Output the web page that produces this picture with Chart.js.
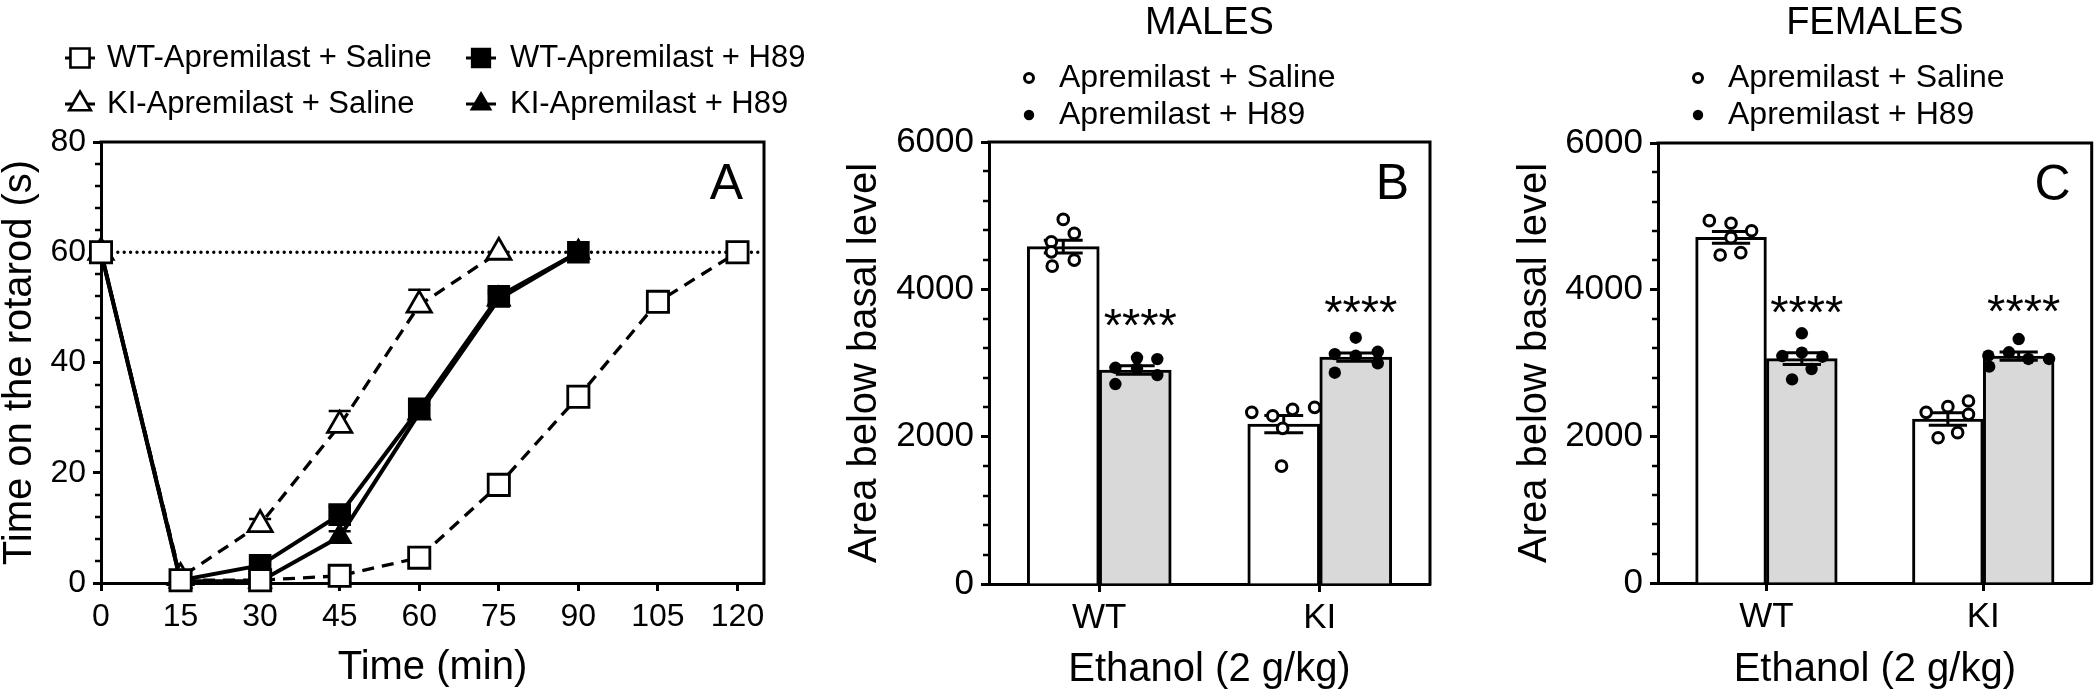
<!DOCTYPE html>
<html>
<head>
<meta charset="utf-8">
<script src="https://cdn.jsdelivr.net/npm/chart.js@4.4.1/dist/chart.umd.min.js"></script>
<style>
  html, body { margin: 0; padding: 0; background: #ffffff; }
  #wrap { position: relative; width: 2100px; height: 691px; overflow: hidden; background: #fff; }
  canvas { position: absolute; top: 0; }
</style>
</head>
<body>
<div id="wrap">
  <canvas id="cA" width="830" height="691" style="left:0px"></canvas>
  <canvas id="cB" width="630" height="691" style="left:830px"></canvas>
  <canvas id="cC" width="640" height="691" style="left:1460px"></canvas>
</div>
<script>
// ================= DATA =================
// Panel A – time course on the rotarod
const TIME_MIN       = [0, 15, 30, 45, 60, 75, 90, 105, 120];
const WT_SALINE      = [60, 0.5, 0.5, 1.3, 4.6, 17.8, 33.8, 51.0, 60];
const WT_SALINE_SEM  = [0, 0.3, 0.3, 0.5, 1.0, 1.5, 1.5, 1.5, 0];
const KI_SALINE      = [60, 1.0, 10.6, 28.6, 50.4, 60];
const KI_SALINE_SEM  = [0, 0.5, 1.0, 2.6, 2.8, 0];
const WT_H89         = [60, 0.5, 3.2, 12.4, 31.6, 52.0, 60];
const WT_H89_SEM     = [0, 0.3, 0.8, 1.5, 1.5, 1.0, 0];
const KI_H89         = [60, 0.3, 0.3, 8.4, 30.8, 51.5, 60];
const KI_H89_SEM     = [0, 0.2, 0.2, 1.0, 1.5, 1.0, 0];
const A_X_TICKS      = [0, 15, 30, 45, 60, 75, 90, 105, 120];
const A_Y_TICKS      = [0, 20, 40, 60, 80];
const A_CUTOFF       = 60;   // dotted reference line
const A_X_MAX        = 125;

// Panels B / C – area below basal level
const GENOTYPES      = ['WT', 'KI'];
const B_Y_TICKS      = [0, 2000, 4000, 6000];

const M_SALINE_MEAN  = [4580, 2170];
const M_SALINE_SEM   = [87, 117];
const M_H89_MEAN     = [2905, 3080];
const M_H89_SEM      = [57, 56];
const M_SALINE_PTS   = [[4949, 4759, 4645, 4509, 4397, 4315], [2330, 2284, 2371, 2398, 2113, 1600]];
const M_H89_PTS      = [[2935, 3071, 3053, 2927, 2836, 2714], [3343, 3121, 3098, 3152, 2995, 2868]];

const F_SALINE_MEAN  = [4714, 2236];
const F_SALINE_SEM   = [80, 86];
const F_H89_MEAN     = [3060, 3095];
const F_H89_SEM      = [80, 56];
const F_SALINE_PTS   = [[4941, 4905, 4804, 4709, 4473, 4505], [2327, 2405, 2482, 2300, 1980, 2050]];
const F_H89_PTS      = [[3405, 3095, 3141, 3086, 2918, 2777], [3327, 3100, 3146, 3055, 3055, 2950]];

// ================= STYLE =================
const FONT = "'Liberation Sans', Arial, Helvetica, sans-serif";
Chart.defaults.font.family = FONT;
Chart.defaults.color = '#000';
Chart.defaults.animation = false;

const CAT_PCT = 0.653;               // bar pair width share of a category
const BAR_SHIFT = CAT_PCT / 4;       // centre of each bar relative to category centre
// horizontal spread of individual dots (in category units), per group
const JIT = {
  mSal: [[0, 0.05, -0.054, -0.054, 0.05, -0.05], [-0.145, -0.05, 0.04, 0.14, -0.005, -0.01]],
  mH89: [[-0.09, 0.008, 0.1, 0.008, 0.1, -0.09], [0, -0.095, 0, 0.1, 0.1, -0.095]],
  fSal: [[-0.1, 0, 0.095, 0, -0.05, 0.045], [-0.1, 0, 0.095, 0.095, -0.045, 0.045]],
  fH89: [[0, -0.09, 0, 0.095, 0.045, -0.045], [0, -0.14, -0.045, 0.045, 0.14, -0.136]]
};

function px(sz) { return sz + 'px ' + FONT; }

// ================= DECOR PLUGIN =================
function makeDecor(cfg) {
  return {
    id: 'decor',
    beforeDatasetsDraw(chart) {
      const ctx = chart.ctx, a = chart.chartArea, ys = chart.scales.y;
      ctx.save();
      ctx.strokeStyle = '#000';
      if (cfg.refLine !== undefined) {
        const py = ys.getPixelForValue(cfg.refLine);
        ctx.beginPath();
        ctx.setLineDash([0, 6.4]);
        ctx.lineCap = 'round';
        ctx.lineWidth = 3.4;
        ctx.moveTo(a.left + 4, py);
        ctx.lineTo(a.right, py);
        ctx.stroke();
        ctx.setLineDash([]);
      }
      if (cfg.lineErr) {
        // SEM drawn upward only (lower half hidden behind the symbols)
        ctx.lineCap = 'butt';
        ctx.lineWidth = 2.5;
        chart.data.datasets.forEach((ds, i) => {
          const sem = cfg.lineErr[i];
          if (!sem) return;
          chart.getDatasetMeta(i).data.forEach((pt, j) => {
            const s = sem[j];
            if (!s) return;
            const v = ds.data[j].y;
            const yt = ys.getPixelForValue(v + s);
            const c = 11;
            ctx.beginPath();
            ctx.moveTo(pt.x, yt); ctx.lineTo(pt.x, pt.y);
            ctx.moveTo(pt.x - c, yt); ctx.lineTo(pt.x + c, yt);
            ctx.stroke();
          });
        });
      }
      ctx.restore();
    },
    afterDatasetDraw(chart, args) {
      if (!cfg.barErr || args.meta.type !== 'bar') return;
      const ctx = chart.ctx, ys = chart.scales.y;
      const ds = chart.data.datasets[args.index];
      const sem = cfg.barErr[args.index];
      ctx.save();
      ctx.strokeStyle = '#000';
      ctx.lineWidth = 3;
      ctx.lineCap = 'butt';
      args.meta.data.forEach((bar, j) => {
        const v = ds.data[j].y, s = sem[j];
        const yt = ys.getPixelForValue(v + s), yb = ys.getPixelForValue(v - s);
        const c = bar.width * 0.27;
        ctx.beginPath();
        ctx.moveTo(bar.x, yt); ctx.lineTo(bar.x, yb);
        ctx.moveTo(bar.x - c, yt); ctx.lineTo(bar.x + c, yt);
        ctx.moveTo(bar.x - c, yb); ctx.lineTo(bar.x + c, yb);
        ctx.stroke();
      });
      ctx.restore();
    },
    afterDraw(chart) {
      const ctx = chart.ctx, a = chart.chartArea, ys = chart.scales.y;
      ctx.save();
      ctx.strokeStyle = '#000';
      ctx.fillStyle = '#000';
      // frame (top and right)
      ctx.lineWidth = 3;
      ctx.lineCap = 'square';
      ctx.beginPath();
      ctx.moveTo(a.left, a.top);
      ctx.lineTo(a.right, a.top);
      ctx.lineTo(a.right, a.bottom);
      ctx.stroke();
      // minor y ticks (5 subdivisions between labelled ticks)
      const maj = cfg.yTicks;
      const step = (maj[1] - maj[0]) / 5;
      ctx.lineWidth = 2.5;
      ctx.lineCap = 'butt';
      ctx.beginPath();
      for (let k = 0; k < maj.length - 1; k++) {
        for (let m = 1; m < 5; m++) {
          const py = Math.round(ys.getPixelForValue(maj[k] + m * step));
          ctx.moveTo(a.left - 6, py);
          ctx.lineTo(a.left, py);
        }
      }
      ctx.stroke();
      // panel letter
      ctx.font = px(50);
      ctx.textAlign = 'right';
      ctx.textBaseline = 'alphabetic';
      ctx.fillText(cfg.letter, a.right - 21, a.top + 57);
      // title
      if (cfg.title) {
        ctx.font = px(38);
        ctx.textAlign = 'center';
        ctx.fillText(cfg.title, (a.left + a.right) / 2, 34);
      }
      // significance marks
      if (cfg.stars) {
        const di = cfg.stars.dataset;
        const meta = chart.getDatasetMeta(di);
        const ds = chart.data.datasets[di];
        ctx.font = px(47);
        ctx.textAlign = 'center';
        const m = ctx.measureText(cfg.stars.text);
        const half = (m.actualBoundingBoxAscent - m.actualBoundingBoxDescent) / 2;
        meta.data.forEach((bar, j) => {
          const top = ys.getPixelForValue(ds.data[j].y + cfg.barErr[di][j]);
          ctx.fillText(cfg.stars.text, bar.x + 5, top - 48 + half);
        });
      }
      // legends
      if (cfg.legendA) {
        ctx.font = px(31);
        ctx.textAlign = 'left';
        ctx.textBaseline = 'middle';
        cfg.legendA.forEach(it => {
          const ds = chart.data.datasets[it.ds];
          const sx = cfg.legendA.symX[it.col], tx = cfg.legendA.textX[it.col], y = cfg.legendA.rowY[it.row];
          ctx.lineWidth = 3;
          ctx.beginPath();
          ctx.moveTo(sx - 15, y); ctx.lineTo(sx + 15, y);
          ctx.stroke();
          ctx.fillStyle = ds.pointBackgroundColor;
          ctx.lineWidth = 2.6;
          Chart.helpers.drawPoint(ctx, { pointStyle: ds.pointStyle, radius: ds.pointRadius - 1.5, borderWidth: 2.6, rotation: 0 }, sx, y);
          ctx.fillStyle = '#000';
          ctx.fillText(ds.label, tx, y);
        });
      }
      if (cfg.legendB) {
        ctx.font = px(32);
        ctx.textAlign = 'left';
        ctx.textBaseline = 'middle';
        cfg.legendB.items.forEach((di, r) => {
          const ds = chart.data.datasets[di];
          const y = cfg.legendB.rowY[r];
          const sx = a.left + 40;
          ctx.fillStyle = ds.pointBackgroundColor;
          ctx.lineWidth = ds.pointBorderWidth;
          Chart.helpers.drawPoint(ctx, { pointStyle: 'circle', radius: ds.pointBorderWidth ? 4.5 : 5.2, borderWidth: ds.pointBorderWidth, rotation: 0 }, sx, y);
          ctx.fillStyle = '#000';
          ctx.fillText(ds.label, a.left + 70, y);
        });
      }
      ctx.restore();
    }
  };
}

function fixedTicks(list) {
  return function (scale) { scale.ticks = list.map(v => ({ value: v })); };
}

// ================= PANEL A =================
const aSeries = [
  { label: 'WT-Apremilast + Saline', y: WT_SALINE, sem: WT_SALINE_SEM, style: 'rect',     r: 15, fill: '#ffffff', dash: [12, 8], lw: 3.3, order: 1 },
  { label: 'KI-Apremilast + Saline', y: KI_SALINE, sem: KI_SALINE_SEM, style: 'triangle', r: 14, fill: '#ffffff', dash: [12, 8], lw: 3.3, order: 2 },
  { label: 'WT-Apremilast + H89',    y: WT_H89,    sem: WT_H89_SEM,    style: 'rect',     r: 14, fill: '#000000', dash: [],      lw: 4,   order: 3 },
  { label: 'KI-Apremilast + H89',    y: KI_H89,    sem: KI_H89_SEM,    style: 'triangle', r: 12, fill: '#000000', dash: [],      lw: 4,   order: 4 }
];

const legendA = [
  { ds: 0, col: 0, row: 0 }, { ds: 2, col: 1, row: 0 },
  { ds: 1, col: 0, row: 1 }, { ds: 3, col: 1, row: 1 }
];
legendA.symX = [80, 481];
legendA.textX = [107, 510];
legendA.rowY = [58, 104];

new Chart(document.getElementById('cA'), {
  type: 'line',
  data: {
    datasets: aSeries.map(s => ({
      label: s.label,
      data: s.y.map((v, i) => ({ x: TIME_MIN[i], y: v })),
      borderColor: '#000',
      borderWidth: s.lw,
      borderDash: s.dash,
      pointStyle: s.style,
      pointRadius: s.r,
      pointBackgroundColor: s.fill,
      pointBorderColor: '#000',
      pointBorderWidth: 2.8,
      fill: false,
      tension: 0,
      order: s.order,
      clip: false
    }))
  },
  options: {
    responsive: false,
    animation: false,
    layout: { padding: { left: 0, right: 66, top: 142, bottom: 0 } },
    plugins: { legend: { display: false }, tooltip: { enabled: false } },
    scales: {
      x: {
        type: 'linear', min: 0, max: A_X_MAX,
        afterBuildTicks: fixedTicks(A_X_TICKS),
        afterFit: s => { s.height = 108; },
        grid: { drawOnChartArea: false, drawTicks: true, tickLength: 8, tickWidth: 3, tickColor: '#000' },
        border: { display: true, width: 3, color: '#000' },
        ticks: { autoSkip: false, maxRotation: 0, font: { size: 32 }, padding: 7, color: '#000', callback: v => String(v) },
        title: { display: true, text: 'Time (min)', font: { size: 40, lineHeight: 1 }, padding: { top: 0, bottom: 3 }, color: '#000' }
      },
      y: {
        type: 'linear', min: 0, max: 80,
        afterBuildTicks: fixedTicks(A_Y_TICKS),
        afterFit: s => { s.width = 101; },
        grid: { drawOnChartArea: false, drawTicks: true, tickLength: 8, tickWidth: 3, tickColor: '#000' },
        border: { display: true, width: 3, color: '#000' },
        ticks: { font: { size: 32 }, padding: 7, color: '#000', callback: v => String(v) },
        title: { display: true, text: 'Time on the rotarod (s)', font: { size: 40, lineHeight: 1 }, padding: { top: 0, bottom: 0 }, color: '#000' }
      }
    }
  },
  plugins: [makeDecor({
    yTicks: A_Y_TICKS, letter: 'A', refLine: A_CUTOFF,
    lineErr: aSeries.map(s => s.sem), legendA: legendA
  })]
});

// ================= PANELS B & C =================
// group g sits at x = g on a linear axis; saline bar at g - BAR_SHIFT, H89 bar at g + BAR_SHIFT
function barsAt(means, side) {
  return means.map((v, g) => ({ x: g + side * BAR_SHIFT, y: v }));
}
function dots(byGroup, side, jit) {
  const out = [];
  byGroup.forEach((vals, g) => vals.forEach((v, k) => out.push({ x: g + side * BAR_SHIFT + jit[g][k], y: v })));
  return out;
}

function barPanel(id, d, lay) {
  return new Chart(document.getElementById(id), {
    type: 'bar',
    data: {
      datasets: [
        { label: 'Apremilast + Saline', data: barsAt(d.salMean, -1), backgroundColor: '#ffffff', borderColor: '#000', borderWidth: 3,
          grouped: false, categoryPercentage: 1, barPercentage: 1, order: 3 },
        { label: 'Apremilast + H89', data: barsAt(d.h89Mean, 1), backgroundColor: '#d9d9d9', borderColor: '#000', borderWidth: 3,
          grouped: false, categoryPercentage: 1, barPercentage: 1, order: 3 },
        { type: 'scatter', label: 'Apremilast + Saline', data: dots(d.salPts, -1, d.salJit),
          pointStyle: 'circle', pointRadius: 5.3, pointBorderWidth: 3, pointBackgroundColor: '#ffffff', pointBorderColor: '#000', order: 1, clip: false },
        { type: 'scatter', label: 'Apremilast + H89', data: dots(d.h89Pts, 1, d.h89Jit),
          pointStyle: 'circle', pointRadius: 6.2, pointBorderWidth: 0, pointBackgroundColor: '#000000', pointBorderColor: '#000', order: 1, clip: false }
      ]
    },
    options: {
      responsive: false,
      animation: false,
      layout: { padding: { left: 0, right: lay.padRight, top: lay.top, bottom: 0 } },
      plugins: { legend: { display: false }, tooltip: { enabled: false } },
      scales: {
        x: {
          type: 'linear', min: -0.5, max: 1.5, offset: false,
          afterBuildTicks: fixedTicks(GENOTYPES.map((_, i) => i)),
          afterFit: s => { s.height = lay.xH; },
          grid: { offset: false, drawOnChartArea: false, drawTicks: true, tickLength: 8, tickWidth: 3, tickColor: '#000' },
          border: { display: true, width: 3, color: '#000' },
          ticks: { autoSkip: false, maxRotation: 0, font: { size: 35 }, padding: 5, color: '#000', callback: v => GENOTYPES[v] },
          title: { display: true, text: 'Ethanol (2 g/kg)', font: { size: 40, lineHeight: 1 }, padding: { top: 0, bottom: 1 }, color: '#000' }
        },
        y: {
          type: 'linear', min: 0, max: 6000,
          afterBuildTicks: fixedTicks(B_Y_TICKS),
          afterFit: s => { s.width = lay.yW; },
          grid: { drawOnChartArea: false, drawTicks: true, tickLength: 8, tickWidth: 3, tickColor: '#000' },
          border: { display: true, width: 3, color: '#000' },
          ticks: { font: { size: 35 }, padding: 7, color: '#000', callback: v => String(v) },
          title: { display: true, text: 'Area below basal level', font: { size: 40, lineHeight: 1 }, padding: { top: lay.yTitlePad, bottom: 0 }, color: '#000' }
        }
      }
    },
    plugins: [makeDecor({
      yTicks: B_Y_TICKS, letter: d.letter, title: d.title,
      barErr: [d.salSem, d.h89Sem],
      stars: { dataset: 1, text: '****' },
      legendB: { items: [2, 3], rowY: [78, 115] }
    })]
  });
}

barPanel('cB', {
  letter: 'B', title: 'MALES',
  salMean: M_SALINE_MEAN, salSem: M_SALINE_SEM, h89Mean: M_H89_MEAN, h89Sem: M_H89_SEM,
  salPts: M_SALINE_PTS, h89Pts: M_H89_PTS, salJit: JIT.mSal, h89Jit: JIT.mH89
}, { padRight: 30, top: 142, xH: 107, yW: 159, yTitlePad: 15 });

barPanel('cC', {
  letter: 'C', title: 'FEMALES',
  salMean: F_SALINE_MEAN, salSem: F_SALINE_SEM, h89Mean: F_H89_MEAN, h89Sem: F_H89_SEM,
  salPts: F_SALINE_PTS, h89Pts: F_H89_PTS, salJit: JIT.fSal, h89Jit: JIT.fH89
}, { padRight: 2, top: 143, xH: 108, yW: 198, yTitlePad: 55 });
</script>
</body>
</html>
